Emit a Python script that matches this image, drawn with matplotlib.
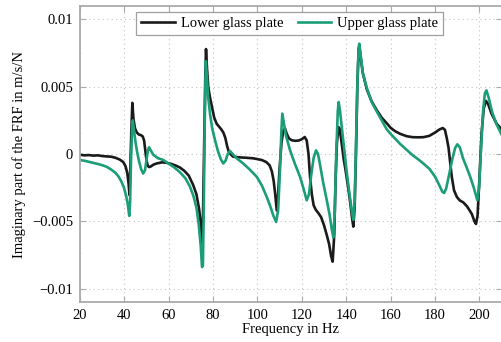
import numpy as np
import matplotlib
matplotlib.use("Agg")
import matplotlib.pyplot as plt

# values, imaginary part in 1e-3 m/s/N
freq_lower = [20.0, 22, 24, 26, 28, 30, 32, 34, 36, 38, 39.5, 40.5, 41.3, 41.9, 42.3,
              42.7, 43.1, 43.6, 44.1, 44.8, 45.6, 46.5, 47.5, 48.3, 48.9, 49.5, 50.0,
              50.6, 51.2, 52.0, 53.0, 54.6, 57, 59, 61, 63, 65, 67, 69, 71, 72.5, 73.7,
              74.5, 75.1, 75.5, 76.0, 76.5, 76.8, 77.2, 77.8, 78.6, 79.5, 80.5, 81.6,
              82.6, 83.6, 84.6, 85.5, 86.3, 87.0, 87.8, 89, 92, 95, 98, 100, 102, 104,
              105.5, 106.5, 107.3, 108.0, 108.7, 109.3, 110.0, 110.8, 111.6, 112.4,
              113.2, 114.2, 115.5, 117, 118.5, 120, 121.3, 122.2, 123, 123.7, 124.5,
              125.3, 126.3, 127.5, 128.7, 130, 131.2, 132.3, 133.2, 133.9, 134.6, 135.2,
              135.8, 136.5, 137.0, 137.8, 138.8, 139.8, 140.8, 141.8, 142.6, 143.2,
              143.8, 144.4, 145.0, 145.6, 145.9, 146.5, 147.5, 149.3, 151.5, 153.8, 156,
              158.2, 160, 162, 164.3, 167.3, 170, 172.5, 174.8, 177.5, 180.1, 182, 183.5,
              184.5, 185.3, 186.1, 186.9, 187.6, 188.6, 189.9, 191.2, 192.8, 194.5,
              196.6, 197.8, 198.5, 199.2, 200.0, 201.0, 202.0, 203.0, 204.0, 205.5,
              207.8, 210]
imag_lower = [-0.05, -0.1, -0.08, -0.12, -0.1, -0.15, -0.18, -0.2, -0.28, -0.42, -0.6,
              -0.9, -1.4, -2.2, -3.05, -1.0, 1.5, 3.8, 2.6, 1.9, 1.6, 1.45, 1.4, 1.3, 1.0,
              0.2, -0.5, -0.9, -0.97, -0.92, -0.8, -0.7, -0.62, -0.65, -0.73, -0.85,
              -1.0, -1.25, -1.6, -2.3, -3.0, -4.1, -5.3, -7.0, -4.0, 1.0, 6.0, 7.8, 6.5,
              5.0, 4.2, 3.5, 2.7, 2.25, 2.05, 1.85, 1.6, 1.2, 0.6, 0.2, 0.0, -0.2, -0.25,
              -0.28, -0.32, -0.38, -0.45, -0.6, -0.85, -1.3, -2.0, -3.0, -4.2, -3.0,
              -1.0, 0.8, 1.7, 1.9, 1.5, 1.15, 1.02, 0.98, 1.0, 1.1, 1.26, 1.0, 0.0, -1.7,
              -3.0, -3.8, -4.15, -4.4, -4.7, -5.3, -6.0, -6.7, -7.6, -8.0, -6.0, -2.0,
              0.8, 2.0, 1.9, 1.0, -0.3, -1.3, -2.4, -3.6, -4.7, -5.4, -4.0, 0.0, 5.0,
              7.8, 8.0, 7.2, 6.0, 4.8, 3.9, 3.25, 2.7, 2.3, 1.95, 1.7, 1.5, 1.32, 1.25,
              1.24, 1.25, 1.35, 1.6, 1.82, 1.93, 1.8, 1.2, 0.5, -0.7, -1.7, -2.7, -3.2,
              -3.45, -3.6, -3.9, -4.45, -5.0, -5.2, -4.6, -2.0, 1.5, 3.4, 3.95, 3.7, 3.0,
              2.25, 1.85]

freq_upper = [20, 22, 24, 26, 28, 30, 32, 34, 36, 37.5, 38.8, 39.8, 40.8, 41.6, 42.2,
              42.6, 43.0, 43.5, 43.8, 44.3, 45.0, 45.8, 46.7, 47.6, 48.5, 49.3, 50.1,
              50.7, 51.1, 51.8, 53, 55, 57.6, 60, 62.5, 65, 67.5, 69.5, 71.1, 72.5, 73.5,
              74.4, 75.0, 75.4, 75.8, 76.2, 76.7, 77.1, 77.8, 78.6, 79.6, 80.9, 82.2,
              83.5, 84.6, 85.6, 86.6, 87.6, 88.8, 90.5, 93.6, 96.5, 99.7, 102, 104.2,
              105.8, 107.2, 108.4, 109.3, 110.2, 110.8, 111.2, 111.8, 112.8, 114.7,
              116.8, 119.2, 120.8, 122.2, 123.2, 124.2, 125.3, 126.4, 127.3, 128.2,
              129.7, 131.2, 132.5, 133.5, 134.2, 134.8, 135.5, 136.2, 136.6, 137.2,
              138.0, 139.0, 140.2, 141.5, 142.5, 143.2, 143.8, 144.4, 145.1, 145.6,
              145.9, 146.5, 147.5, 149.3, 151.5, 153.8, 156, 158.2, 160, 162, 164.3,
              167.3, 170, 172.5, 174.8, 177.5, 180.1, 182.2, 183.3, 184.1, 185, 186.3,
              187.8, 189.1, 190.1, 191.2, 192.6, 194.3, 195.9, 197.5, 199.1, 199.9,
              200.8, 201.7, 202.5, 203.2, 204.2, 205.8, 207.8, 210]
imag_upper = [-0.45, -0.5, -0.58, -0.66, -0.74, -0.83, -0.95, -1.15, -1.4, -1.7, -2.1,
              -2.5, -3.1, -3.8, -4.6, -3.5, -0.5, 2.0, 2.5, 1.8, 0.9, 0.1, -0.6, -1.15,
              -1.45, -1.2, -0.3, 0.3, 0.5, 0.3, -0.05, -0.3, -0.45, -0.72, -1.0, -1.35,
              -1.8, -2.4, -3.1, -4.0, -5.2, -6.8, -8.4, -8.3, -4.0, 2.0, 6.9, 6.0, 4.2,
              3.0, 1.9, 1.0, 0.2, -0.4, -0.7, -0.5, 0.0, 0.22, 0.0, -0.3, -0.71, -1.15,
              -1.7, -2.35, -3.2, -3.9, -4.6, -5.05, -4.2, -1.0, 1.8, 3.0, 2.4, 1.4, 0.27,
              -0.7, -1.7, -2.6, -3.44, -3.0, -1.6, -0.3, 0.27, 0.0, -0.8, -2.2, -3.4,
              -4.5, -5.6, -6.2, -4.5, 0.0, 3.2, 3.86, 3.2, 2.0, 0.5, -1.3, -3.0, -4.2,
              -4.9, -3.5, 0.5, 5.5, 7.9, 8.2, 7.4, 6.0, 4.9, 3.85, 3.15, 2.5, 1.85, 1.5,
              1.15, 0.75, 0.3, -0.1, -0.4, -0.71, -1.1, -1.7, -2.4, -2.8, -2.9, -2.6,
              -1.6, -0.4, 0.45, 0.72, 0.5, -0.3, -1.0, -1.7, -2.5, -3.44, -2.5, 0.5, 3.2,
              4.5, 4.73, 4.2, 3.1, 2.2, 1.45]

yticks = [-0.01, -0.005, 0, 0.005, 0.01]
ytick_labels = ["\u22120.01", "\u22120.005", "0", "0.005", "0.01"]
xticks = [20, 40, 60, 80, 100, 120, 140, 160, 180, 200]

plt.rcParams['font.family'] = ['Liberation Serif', 'DejaVu Serif']
plt.rcParams['font.size'] = 10.5

fig = plt.figure(figsize=(5.01, 3.42), dpi=100)
ax = fig.add_axes([80 / 501, 1 - 302 / 342, 421.5 / 501, 296 / 342])

ax.plot(freq_lower, np.array(imag_lower) * 1e-3, color='#1a1a1a', lw=1.9,
        label='Lower glass plate')
ax.plot(freq_upper, np.array(imag_upper) * 1e-3, color='#1b9e77', lw=1.9,
        label='Upper glass plate')

ax.set_xlim(20, 210)
ax.set_ylim(-0.011, 0.011)
ax.set_xticks(xticks)
ax.set_yticks(yticks)
ax.set_yticklabels(ytick_labels)
ax.grid(True, color='#c4c4c4', lw=0.8, linestyle=(0, (1, 3)))

for s in ['left', 'bottom', 'top']:
    ax.spines[s].set_color('#aaaaaa')
    ax.spines[s].set_linewidth(1.3)
ax.spines['right'].set_visible(False)
ax.tick_params(direction='in', length=4, color='#aaaaaa', top=True, right=True,
               labelsize=10.5, pad=5)

ax.set_xlabel('Frequency in Hz', labelpad=1)
ax.set_ylabel('Imaginary part of the FRF in m/s/N', labelpad=4)

leg = ax.legend(loc='upper center', bbox_to_anchor=(0.498, 0.98), ncol=2,
                frameon=True, fancybox=False, borderaxespad=0, handlelength=2.3,
                columnspacing=1.0, handletextpad=0.4, borderpad=0.35)
leg.get_frame().set_edgecolor('#888888')
leg.get_frame().set_linewidth(0.9)

fig.savefig('out.png', dpi=100)
